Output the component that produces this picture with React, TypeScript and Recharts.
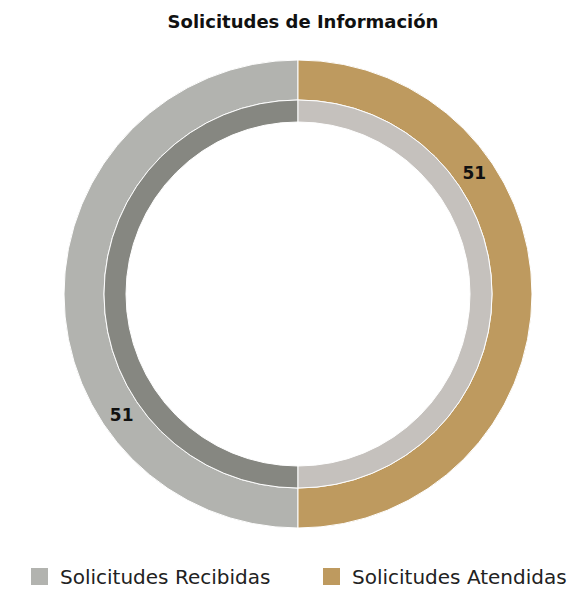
import React from 'react';
import { PieChart, Pie, Cell } from 'recharts';

const categories = ['Solicitudes Recibidas', 'Solicitudes Atendidas'];
const outerValues = [51, 51];
const innerValues = [51, 51];
const outerColors = ['#B2B3AF', '#BE9A5F'];
const innerColors = ['#868781', '#C5C1BD'];

const outerData = categories.map((name, i) => ({ name, value: outerValues[i] }));
const innerData = categories.map((name, i) => ({ name, value: innerValues[i] }));

const RADIAN = Math.PI / 180;
const FONT = '"DejaVu Sans", "Open Sans", sans-serif';

const renderLabel = ({ cx, cy, midAngle, innerRadius, outerRadius, value }: any) => {
  const r = (innerRadius + outerRadius) / 2;
  const a = midAngle + 34.5;
  const x = cx + r * Math.cos(-a * RADIAN);
  const y = cy + r * Math.sin(-a * RADIAN);
  return (
    <text x={x} y={y} fill="#111" textAnchor="middle" dominantBaseline="central"
      fontFamily={FONT} fontWeight={700} fontSize={17}>
      {value}
    </text>
  );
};

const legendPos = [
  { box: 31, text: 60 },
  { box: 323, text: 352 },
];

const App: React.FC = () => {
  return (
    <div style={{ position: 'absolute', left: 0, top: 0, width: 576, height: 589, background: '#fff', fontFamily: FONT, overflow: 'hidden' }}>
      <div style={{ position: 'absolute', left: 0, top: 11, width: 606, textAlign: 'center', fontSize: 18, fontWeight: 700, color: '#111', whiteSpace: 'nowrap' }}>
        Solicitudes de Información
      </div>
      <div style={{ position: 'absolute', left: 0, top: 0 }}>
        <PieChart width={576} height={545} margin={{ top: 0, right: 0, bottom: 0, left: 0 }}>
          <Pie
            data={outerData}
            dataKey="value"
            cx={298}
            cy={294}
            innerRadius={194}
            outerRadius={234}
            startAngle={90}
            endAngle={450}
            stroke="#fff"
            strokeWidth={1}
            label={renderLabel}
            labelLine={false}
            isAnimationActive={false}
          >
            {outerData.map((d, i) => (
              <Cell key={`o-${i}`} fill={outerColors[i]} />
            ))}
          </Pie>
          <Pie
            data={innerData}
            dataKey="value"
            cx={298}
            cy={294}
            innerRadius={172}
            outerRadius={194}
            startAngle={90}
            endAngle={450}
            stroke="#fff"
            strokeWidth={1}
            isAnimationActive={false}
          >
            {innerData.map((d, i) => (
              <Cell key={`i-${i}`} fill={innerColors[i]} />
            ))}
          </Pie>
        </PieChart>
      </div>
      {categories.map((name, i) => (
        <React.Fragment key={name}>
          <div style={{ position: 'absolute', left: legendPos[i].box, top: 568, width: 17, height: 17, background: outerColors[i] }} />
          <div style={{ position: 'absolute', left: legendPos[i].text, top: 565, fontSize: 20, color: '#222', whiteSpace: 'nowrap', lineHeight: 'normal' }}>
            {name}
          </div>
        </React.Fragment>
      ))}
    </div>
  );
};

export default App;
